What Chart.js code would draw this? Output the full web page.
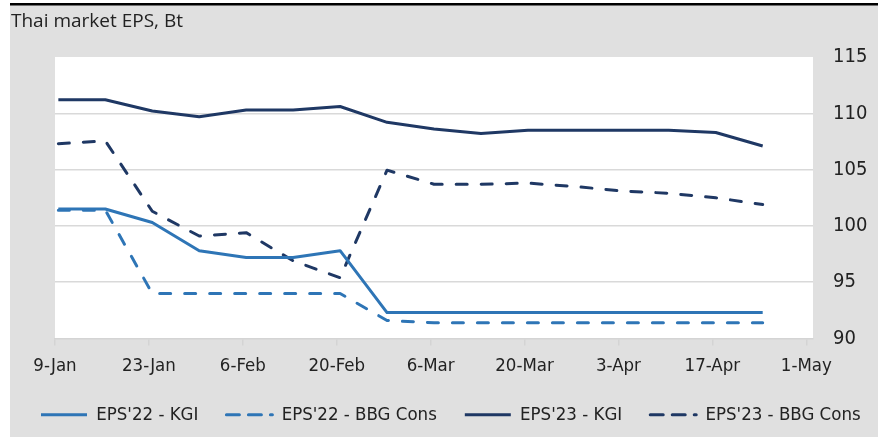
<!DOCTYPE html>
<html>
<head>
<meta charset="utf-8">
<script src="https://cdn.jsdelivr.net/npm/chart.js@4/dist/chart.umd.min.js"></script>
<style>
  html, body { margin: 0; padding: 0; background: #fff; }
  #wrap { position: relative; width: 878px; height: 437px; }
</style>
</head>
<body>
<div id="wrap"><canvas id="myChart" width="878" height="437"></canvas></div>
<script>
// weekly observation dates
const dates = ['2023-01-09', '2023-01-16', '2023-01-23', '2023-01-30', '2023-02-06', '2023-02-13',
  '2023-02-20', '2023-02-27', '2023-03-06', '2023-03-13', '2023-03-20', '2023-03-27',
  '2023-04-03', '2023-04-10', '2023-04-17', '2023-04-24'];
const tickLabels = ['9-Jan', '23-Jan', '6-Feb', '20-Feb', '6-Mar', '20-Mar', '3-Apr', '17-Apr', '1-May'];
const seriesNames = ["EPS'22 - KGI", "EPS'22 - BBG Cons", "EPS'23 - KGI", "EPS'23 - BBG Cons"];
const eps22Kgi = [101.5, 101.5, 100.3, 97.8, 97.2, 97.2, 97.8, 92.3, 92.3, 92.3, 92.3, 92.3, 92.3, 92.3, 92.3, 92.3];
const eps22Bbg = [101.4, 101.4, 94.0, 94.0, 94.0, 94.0, 94.0, 91.6, 91.4, 91.4, 91.4, 91.4, 91.4, 91.4, 91.4, 91.4];
const eps23Kgi = [111.2, 111.2, 110.2, 109.7, 110.3, 110.3, 110.6, 109.2, 108.6, 108.2, 108.5, 108.5, 108.5, 108.5, 108.3, 107.1];
const eps23Bbg = [107.3, 107.55, 101.3, 99.1, 99.4, 96.9, 95.4, 104.95, 103.7, 103.7, 103.8, 103.5, 103.1, 102.9, 102.5, 101.9];

const axisFont = "'DejaVu Sans Condensed', 'DejaVu Sans', sans-serif";
const lightBlue = '#2e75b6';
const navy = '#1f3864';

const day0 = Date.parse(dates[0]);
function toPoints(values) {
  // each day is one slot on the date axis, the point sits in the middle of it
  return values.map((v, i) => ({ x: (Date.parse(dates[i]) - day0) / 86400000 + 0.5, y: v }));
}

function makeSet(label, values, color, dashed) {
  return {
    label: label,
    data: toPoints(values),
    borderColor: color,
    backgroundColor: color,
    borderWidth: 3,
    borderDash: dashed ? [11, 14] : [],
    borderCapStyle: dashed ? 'round' : 'butt',
    borderJoinStyle: 'round',
    pointRadius: 0,
    tension: 0,
    fill: false
  };
}

const backdrop = {
  id: 'backdrop',
  beforeLayout(chart) {
    // let the legend keep all four entries on one row
    const lg = chart.legend;
    if (lg && !lg._wide) {
      const orig = lg.update;
      lg.update = function(w, h, m) { return orig.call(this, w + 30, h, m); };
      lg._wide = true;
    }
  },
  afterLayout(chart) {
    if (chart.legend) {
      chart.legend.right += 30;
      chart.legend.width += 30;
    }
  },
  beforeDraw(chart) {
    const c = chart.ctx, a = chart.chartArea;
    c.save();
    c.fillStyle = '#ffffff';
    c.fillRect(0, 0, chart.width, chart.height);
    c.fillStyle = '#e0e0e0';
    c.fillRect(10, 5, chart.width - 10, chart.height - 5);
    c.fillStyle = '#000000';
    c.fillRect(10, 3, chart.width - 10, 2.5);
    c.fillStyle = '#ffffff';
    c.fillRect(a.left, a.top, a.right - a.left, a.bottom - a.top);
    c.fillStyle = '#222222';
    c.font = "19px 'Open Sans', sans-serif";
    c.textBaseline = 'alphabetic';
    c.fillText('Thai market EPS, Bt', 11, 27);
    c.restore();
  }
};

var config = {
  type: 'line',
  data: {
    datasets: [
      makeSet(seriesNames[0], eps22Kgi, lightBlue, false),
      makeSet(seriesNames[1], eps22Bbg, lightBlue, true),
      makeSet(seriesNames[2], eps23Kgi, navy, false),
      makeSet(seriesNames[3], eps23Bbg, navy, true)
    ]
  },
  options: {
    responsive: false,
    animation: false,
    layout: { padding: { left: 13, right: 0, top: 57, bottom: 3 } },
    scales: {
      x: {
        type: 'linear',
        min: 0,
        max: 113,
        afterBuildTicks: function(scale) {
          scale.ticks = tickLabels.map((t, i) => ({ value: i * 14 }));
        },
        afterFit: function(scale) {
          scale.paddingLeft = 55;
          scale.height = 39;
        },
        grid: { drawOnChartArea: false, drawTicks: true, tickLength: 7, color: '#d4d4d4', lineWidth: 1.5 },
        border: { display: true, color: '#d4d4d4', width: 1.5 },
        ticks: {
          autoSkip: false,
          maxRotation: 0,
          padding: 10,
          color: '#222222',
          font: { family: axisFont, size: 18.5 },
          callback: function(v, i) { return tickLabels[i]; }
        }
      },
      y: {
        position: 'right',
        min: 90,
        max: 115,
        afterFit: function(scale) { scale.width = 65; },
        grid: {
          drawTicks: false,
          lineWidth: 1.5,
          color: function(ctx) {
            const v = ctx.tick ? ctx.tick.value : 0;
            return (v === 115 || v === 90) ? 'rgba(0,0,0,0)' : '#d9d9d9';
          }
        },
        border: { display: false },
        ticks: {
          stepSize: 5,
          padding: 20,
          crossAlign: 'near',
          color: '#222222',
          font: { family: axisFont, size: 20 }
        }
      }
    },
    plugins: {
      legend: {
        position: 'bottom',
        align: 'start',
        labels: {
          usePointStyle: true,
          pointStyle: 'line',
          pointStyleWidth: 46,
          padding: 28,
          color: '#222222',
          font: { family: axisFont, size: 18.5 },
          generateLabels: function(chart) {
            const items = Chart.defaults.plugins.legend.labels.generateLabels(chart);
            items.forEach((it, i) => {
              const ds = chart.data.datasets[i];
              it.pointStyle = 'line';
              it.lineWidth = 3;
              if (ds.borderDash.length) {
                it.lineDash = [13, 9];
                it.lineDashOffset = 0;
                it.lineCap = 'round';
              }
            });
            return items;
          }
        }
      },
      tooltip: { enabled: false }
    }
  },
  plugins: [backdrop]
};

var ctx = document.getElementById('myChart').getContext('2d');
window.epsChart = new Chart(ctx, config);
</script>
</body>
</html>
